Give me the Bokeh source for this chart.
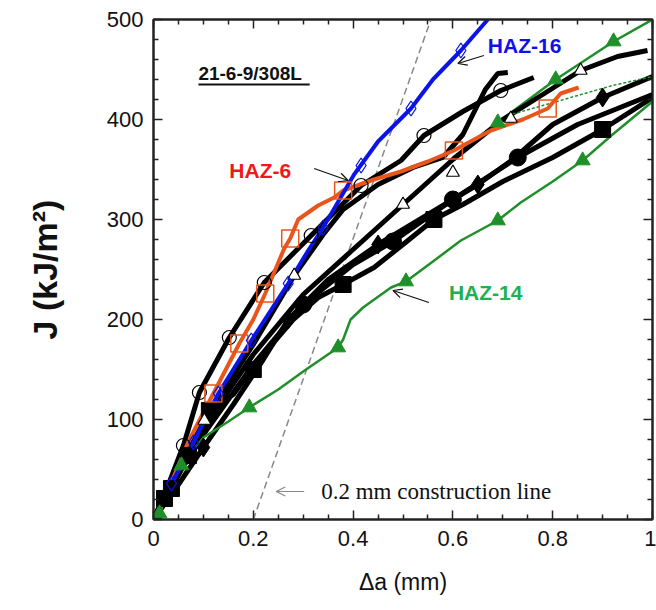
from bokeh.plotting import figure
from bokeh.models import (LinearAxis, FixedTicker, CustomJSTickFormatter, Range1d,
                          Arrow, OpenHead, Label)
from bokeh.embed import file_html
from bokeh.resources import INLINE

# ---------------- data ----------------
x_ticks = [0, 0.2, 0.4, 0.6, 0.8, 1.0]
x_minor = [0.05, 0.1, 0.15, 0.25, 0.3, 0.35, 0.45, 0.5, 0.55, 0.65, 0.7, 0.75, 0.85, 0.9, 0.95]
y_ticks = [0, 100, 200, 300, 400, 500]
y_minor = [20, 40, 60, 80, 120, 140, 160, 180, 220, 240, 260, 280, 320, 340, 360, 380, 420, 440, 460, 480]

# construction line (0.2 mm offset)
constr_x = [0.2, 0.556]
constr_J = [0, 500]

# HAZ-16 (blue)
haz16_x = [0, 0.036, 0.08, 0.13, 0.196, 0.27, 0.31, 0.34, 0.402, 0.45, 0.516, 0.56, 0.616, 0.67]
haz16_J = [0, 36, 77, 126, 179, 236, 269, 292, 345, 378, 411, 440, 469, 500]
haz16_mx = [0.036, 0.08, 0.13, 0.196, 0.27, 0.34, 0.416, 0.516, 0.616]
haz16_mJ = [36, 77, 126, 179, 236, 292, 354, 411, 469]

# HAZ-6 (orange)
haz6_x = [0, 0.012, 0.03, 0.07, 0.12, 0.172, 0.2, 0.224, 0.262, 0.274, 0.29, 0.33, 0.362, 0.38,
          0.442, 0.496, 0.55, 0.602, 0.676, 0.74, 0.79, 0.816, 0.852]
haz6_J = [0, 10, 30, 78, 126, 176, 200, 226, 271, 281, 300, 314, 322, 329,
          340, 348, 358, 369, 389, 400, 411, 426, 432]
haz6_mx = [0.12, 0.172, 0.224, 0.274, 0.38, 0.602, 0.79]
haz6_mJ = [126, 176, 226, 281, 329, 369, 411]

# HAZ-14 (green, lower)
haz14_x = [0, 0.012, 0.03, 0.056, 0.1, 0.15, 0.192, 0.25, 0.3, 0.37, 0.38, 0.395, 0.42, 0.476,
           0.506, 0.56, 0.616, 0.69, 0.736, 0.8, 0.86, 0.92, 1.0]
haz14_J = [0, 6, 28, 54, 82, 98, 112, 130, 148, 172, 180, 200, 212, 232,
           238, 258, 279, 299, 317, 338, 359, 385, 418]
haz14_mx = [0.012, 0.056, 0.192, 0.37, 0.506, 0.69, 0.86]
haz14_mJ = [6, 54, 112, 172, 238, 299, 359]

# second green curve (upper, emerging from the black bundle)
green2_x = [0.6, 0.69, 0.806, 0.922, 1.0]
green2_J = [362, 397, 440, 478, 500]
green2_mx = [0.69, 0.806, 0.922]
green2_mJ = [397, 440, 478]

# thin dotted green
green3_x = [0.71, 0.78, 0.85, 0.92, 1.0]
green3_J = [404, 414, 424, 434, 443]

# black curves
blkA_x = [0, 0.03, 0.06, 0.092, 0.152, 0.222, 0.316, 0.416, 0.496, 0.542, 0.62, 0.696, 0.762]
blkA_J = [0, 35, 74, 127, 182, 237, 284, 334, 359, 384, 408, 429, 442]
blkA_mx = [0.06, 0.092, 0.152, 0.222, 0.316, 0.416, 0.542, 0.696]
blkA_mJ = [74, 127, 182, 237, 284, 334, 384, 429]

blkB_x = [0, 0.05, 0.102, 0.2, 0.282, 0.34, 0.38, 0.45, 0.52, 0.58, 0.62, 0.645, 0.665, 0.69, 0.71]
blkB_J = [0, 50, 99, 175, 244, 285, 310, 335, 352, 362, 385, 410, 430, 446, 447]
blkB_mx = [0.102, 0.282, 0.6]
blkB_mJ = [99, 244, 347]

blkC_x = [0, 0.1, 0.2, 0.3, 0.4, 0.5, 0.6, 0.7, 0.78, 0.856, 0.93, 0.99]
blkC_J = [0, 92, 165, 225, 270, 315, 360, 400, 425, 449, 463, 469]
blkC_mx = [0.5, 0.716, 0.856]
blkC_mJ = [315, 401, 449]

blkD_x = [0, 0.05, 0.1, 0.16, 0.22, 0.27, 0.35, 0.45, 0.55, 0.65, 0.72, 0.8, 0.9, 1.0]
blkD_J = [0, 35, 72, 115, 160, 200, 240, 275, 305, 335, 360, 395, 422, 443]
blkD_mx = [0.1, 0.27, 0.45, 0.65, 0.9]
blkD_mJ = [72, 200, 275, 335, 422]

blkE_x = [0, 0.022, 0.036, 0.07, 0.112, 0.16, 0.22, 0.28, 0.33, 0.376, 0.442, 0.5, 0.562, 0.62,
          0.7, 0.8, 0.9, 1.0]
blkE_J = [0, 21, 31, 64, 109, 125, 165, 200, 222, 234, 252, 275, 300, 315,
          338, 362, 390, 422]
blkE_mx = [0, 0.022, 0.036, 0.07, 0.112, 0.2, 0.38, 0.562, 0.9]
blkE_mJ = [0, 21, 31, 64, 109, 150, 235, 300, 390]

blkF_x = [0, 0.05, 0.1, 0.2, 0.3, 0.4, 0.48, 0.6, 0.73, 0.85, 0.95, 1.0]
blkF_J = [0, 45, 85, 155, 215, 255, 278, 320, 362, 395, 415, 425]
blkF_mx = [0.3, 0.48, 0.6, 0.73]
blkF_mJ = [215, 278, 320, 362]

# ---------------- figure ----------------
BLUE = "#0a14e6"
ORANGE = "#e8561c"
GREEN = "#1f8f2a"
BLACK = "#000000"

p = figure(width=656, height=610, output_backend="svg", toolbar_location=None,
           x_range=Range1d(0, 1), y_range=Range1d(0, 500),
           min_border_left=153, min_border_right=4, min_border_top=19, min_border_bottom=91)
p.frame_width = 499
p.frame_height = 500
p.background_fill_color = "white"
p.border_fill_color = "white"
p.outline_line_color = "#222222"
p.outline_line_width = 2
p.xgrid.visible = False
p.ygrid.visible = False

fmt = CustomJSTickFormatter(code="return (Math.round(tick*10)/10).toString();")
blank = CustomJSTickFormatter(code="return '';")
xt = FixedTicker(ticks=x_ticks, minor_ticks=x_minor)
yt = FixedTicker(ticks=y_ticks, minor_ticks=y_minor)

def style(ax, labels=True):
    ax.axis_line_color = "#222222"
    ax.axis_line_width = 2
    ax.major_tick_in = 9
    ax.major_tick_out = 0
    ax.minor_tick_in = 5
    ax.minor_tick_out = 0
    ax.major_tick_line_color = "#222222"
    ax.minor_tick_line_color = "#222222"
    ax.major_tick_line_width = 1.5
    ax.minor_tick_line_width = 1.5
    if labels:
        ax.major_label_text_font = "Liberation Sans"
        ax.major_label_text_font_size = "22px"
        ax.major_label_text_color = "#111111"
    else:
        ax.formatter = blank
        ax.major_label_standoff = 0

xa = p.xaxis[0]
xa.ticker = xt
xa.formatter = fmt
style(xa)
xa.major_label_standoff = 11
xa.axis_label = "Δa (mm)"
xa.axis_label_text_font = "Liberation Sans"
xa.axis_label_text_font_size = "23px"
xa.axis_label_text_font_style = "normal"
xa.axis_label_text_color = "#111111"
xa.axis_label_standoff = 20

ya = p.yaxis[0]
ya.ticker = yt
style(ya)
ya.major_label_standoff = 10
ya.axis_label = "J (kJ/m²)"
ya.axis_label_text_font = "Liberation Sans"
ya.axis_label_text_font_size = "34px"
ya.axis_label_text_font_style = "bold"
ya.axis_label_text_color = "#111111"
ya.axis_label_standoff = 40

top = LinearAxis(ticker=FixedTicker(ticks=x_ticks, minor_ticks=x_minor))
style(top, labels=False)
p.add_layout(top, "above")
right = LinearAxis(ticker=FixedTicker(ticks=y_ticks, minor_ticks=y_minor))
style(right, labels=False)
p.add_layout(right, "right")

# construction line
p.line(constr_x, constr_J, line_color="#888888", line_width=1.5, line_dash="7 4")

# curves
p.line(green2_x, green2_J, line_color=GREEN, line_width=2.5)
for xs, js in [(blkA_x, blkA_J), (blkB_x, blkB_J), (blkC_x, blkC_J),
               (blkD_x, blkD_J), (blkE_x, blkE_J), (blkF_x, blkF_J)]:
    p.line(xs, js, line_color=BLACK, line_width=5)
p.line(green3_x, green3_J, line_color=GREEN, line_width=1.5, line_dash="3 2")
p.line(haz14_x, haz14_J, line_color=GREEN, line_width=2.5)
p.line(haz6_x, haz6_J, line_color=ORANGE, line_width=4)
p.line(haz16_x, haz16_J, line_color=BLUE, line_width=4)

# markers
p.scatter(blkE_mx, blkE_mJ, marker="square", size=16, color=BLACK)
p.scatter(blkF_mx, blkF_mJ, marker="circle", size=17, color=BLACK)
p.scatter(blkD_mx, blkD_mJ, marker="diamond", size=19, color=BLACK)
p.scatter(blkA_mx, blkA_mJ, marker="circle", size=14, fill_color="white", fill_alpha=0,
          line_color=BLACK, line_width=1.2)
p.scatter(blkB_mx, blkB_mJ, marker="triangle", size=13, fill_color="white",
          line_color=BLACK, line_width=1.2)
p.scatter(blkC_mx, blkC_mJ, marker="triangle", size=13, fill_color="white",
          line_color=BLACK, line_width=1.2)
p.scatter(haz14_mx, haz14_mJ, marker="triangle", size=15, color=GREEN)
p.scatter(green2_mx, green2_mJ, marker="triangle", size=15, color=GREEN)
p.scatter(haz6_mx, haz6_mJ, marker="square", size=17, fill_color="white", fill_alpha=0,
          line_color=ORANGE, line_width=1.5)
p.scatter(haz16_mx, haz16_mJ, marker="diamond", size=15, fill_color="white", fill_alpha=0,
          line_color=BLUE, line_width=1.3)

# annotations
def lab(x, y, t, color, size, font="Liberation Sans", style_="bold"):
    p.add_layout(Label(x=x, y=y, text=t, text_color=color, text_font_size=size,
                       text_font=font, text_font_style=style_, text_baseline="middle",
                       text_align="left"))

lab(0.09, 446, "21-6-9/308L", "#111111", "19px")
p.segment(x0=[0.09], y0=[435], x1=[0.313], y1=[435], line_color="#111111", line_width=2)
lab(0.67, 474, "HAZ-16", "#1010ee", "21px")
lab(0.152, 349, "HAZ-6", "#f01818", "21px")
lab(0.592, 227, "HAZ-14", "#20b04c", "21px")
lab(0.336, 28, "0.2 mm construction line", "#111111", "23px", font="Liberation Serif",
    style_="normal")

def arrow(x0, y0, x1, y1, color="#111111"):
    p.add_layout(Arrow(end=OpenHead(size=9, line_color=color, line_width=1.2),
                       x_start=x0, y_start=y0, x_end=x1, y_end=y1,
                       line_color=color, line_width=1.2))

arrow(0.662, 464, 0.61, 456)
arrow(0.322, 351, 0.39, 339)
arrow(0.552, 217, 0.48, 229)
arrow(0.302, 28, 0.246, 28, color="#888888")

open("out.html", "w").write(file_html(p, INLINE))
